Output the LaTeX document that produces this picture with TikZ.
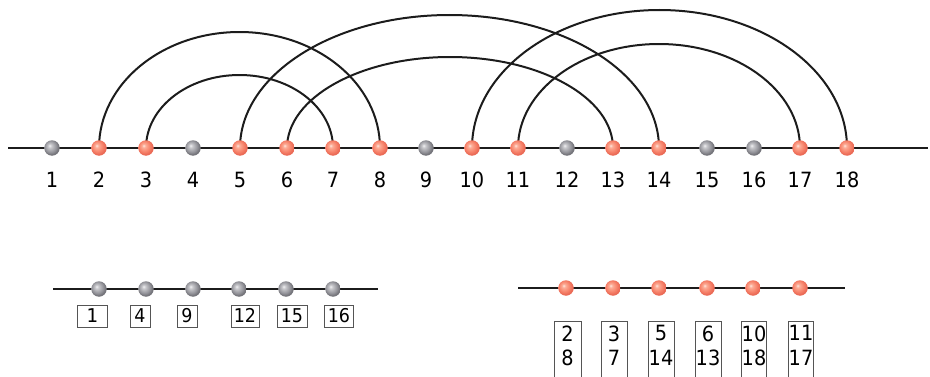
\documentclass[tikz,border=0pt]{standalone}
\usepackage{fontspec}
\setmainfont{DejaVu Sans}[FakeStretch=0.92]
\newfontfamily\monofont{DejaVu Sans Mono}[FakeStretch=1.0]
\definecolor{ln}{HTML}{1C1C1C}
\definecolor{bx}{HTML}{555555}
\definecolor{rbA}{RGB}{255,232,222}
\definecolor{rbB}{RGB}{252,172,150}
\definecolor{rbC}{RGB}{246,128,104}
\definecolor{rbD}{RGB}{234,106,86}
\definecolor{gbA}{RGB}{242,242,244}
\definecolor{gbB}{RGB}{200,200,204}
\definecolor{gbC}{RGB}{150,150,156}
\definecolor{gbD}{RGB}{116,116,122}
\pgfdeclareradialshading{redball}{\pgfpoint{-8bp}{8bp}}{color(0bp)=(rbA); color(6bp)=(rbB); color(18bp)=(rbC); color(25bp)=(rbD); color(50bp)=(rbD)}
\pgfdeclareradialshading{grayball}{\pgfpoint{-8bp}{8bp}}{color(0bp)=(gbA); color(6bp)=(gbB); color(18bp)=(gbC); color(25bp)=(gbD); color(50bp)=(gbD)}
\tikzset{
  ballbase/.style={circle, inner sep=0pt, minimum size=15.5pt},
  rball/.style={ballbase, shading=redball},
  gball/.style={ballbase, shading=grayball},
  axisline/.style={draw=ln, line width=1.3pt},
  arcline/.style={draw=ln, line width=2pt},
  numlabel/.style={anchor=base, inner sep=0pt, font=\fontsize{21}{24}\selectfont},
  smallbox/.style={draw=bx, line width=0.9pt, inner sep=0pt, minimum height=22pt, text height=13.5pt, text depth=0pt, font=\fontsize{19}{22}\selectfont},
  tallbox/.style={draw=bx, line width=0.9pt, inner xsep=0.5pt, inner ysep=4pt, anchor=north, align=center, font=\fontsize{21}{24.5}\selectfont}
}
\begin{document}
\begin{tikzpicture}[x=1pt,y=1pt]
\useasboundingbox (0,0) rectangle (930,376);
% main axis
\coordinate (A0) at (8,228);
\coordinate (A1) at (928,228);
\draw[axisline] (A0) -- (A1);
\foreach \i/\x in {1/52,2/99,3/146,4/193,5/240,6/287,7/333,8/380,9/426,10/472,11/518,12/567,13/613,14/659,15/707,16/754,17/800,18/847}{
  \coordinate (c\i) at (\x,228);
  \node[numlabel] (l\i) at (\x,188.5) {\i};
}
% arcs (drawn first, balls on top)
\draw[arcline] (c2) arc[start angle=180, end angle=0, x radius=140.5, y radius=116];
\draw[arcline] (c3) arc[start angle=180, end angle=0, x radius=93.5, y radius=73];
\draw[arcline] (c5) arc[start angle=180, end angle=0, x radius=209.5, y radius=133];
\draw[arcline] (c6) arc[start angle=180, end angle=0, x radius=163, y radius=91];
\draw[arcline] (c10) arc[start angle=180, end angle=0, x radius=187.5, y radius=138];
\draw[arcline] (c11) arc[start angle=180, end angle=0, x radius=141, y radius=104];
\foreach \i/\s in {1/gball,2/rball,3/rball,4/gball,5/rball,6/rball,7/rball,8/rball,9/gball,10/rball,11/rball,12/gball,13/rball,14/rball,15/gball,16/gball,17/rball,18/rball}{
  \node[\s] (b\i) at (c\i) {};
}
% bottom left: gray group
\coordinate (G0) at (53,87);
\coordinate (G1) at (378,87);
\draw[axisline] (G0) -- (G1);
\foreach \j/\x in {1/99,2/146,3/193,4/239,5/286,6/333}{
  \node[gball] (g\j) at (\x,87) {};
}
\node[smallbox, minimum width=30pt] (bg1) at (92,60) {\monofont 1};
\node[smallbox, minimum width=20pt] (bg2) at (140,60) {4};
\node[smallbox, minimum width=20pt] (bg3) at (187,60) {9};
\node[smallbox, minimum width=28pt] (bg4) at (245,60) {12};
\node[smallbox, minimum width=30pt] (bg5) at (292,60) {15};
\node[smallbox, minimum width=29pt] (bg6) at (339,60) {16};
% bottom right: red group
\coordinate (R0) at (518,88);
\coordinate (R1) at (845,88);
\draw[axisline] (R0) -- (R1);
\foreach \j/\x in {1/566,2/613,3/659,4/707,5/753,6/800}{
  \node[rball] (r\j) at (\x,88) {};
}
\node[tallbox, minimum width=27pt] (br1) at (567.5,55) {2\\8\\\mbox{}};
\node[tallbox, minimum width=26pt] (br2) at (614,55) {3\\7\\\mbox{}};
\node[tallbox, minimum width=26pt] (br3) at (661,55) {5\\14\\\mbox{}};
\node[tallbox, minimum width=26pt] (br4) at (708,55) {6\\13\\\mbox{}};
\node[tallbox, minimum width=25pt] (br5) at (754,55) {10\\18\\\mbox{}};
\node[tallbox, minimum width=24pt] (br6) at (801,55) {11\\17\\\mbox{}};
\end{tikzpicture}
\end{document}
